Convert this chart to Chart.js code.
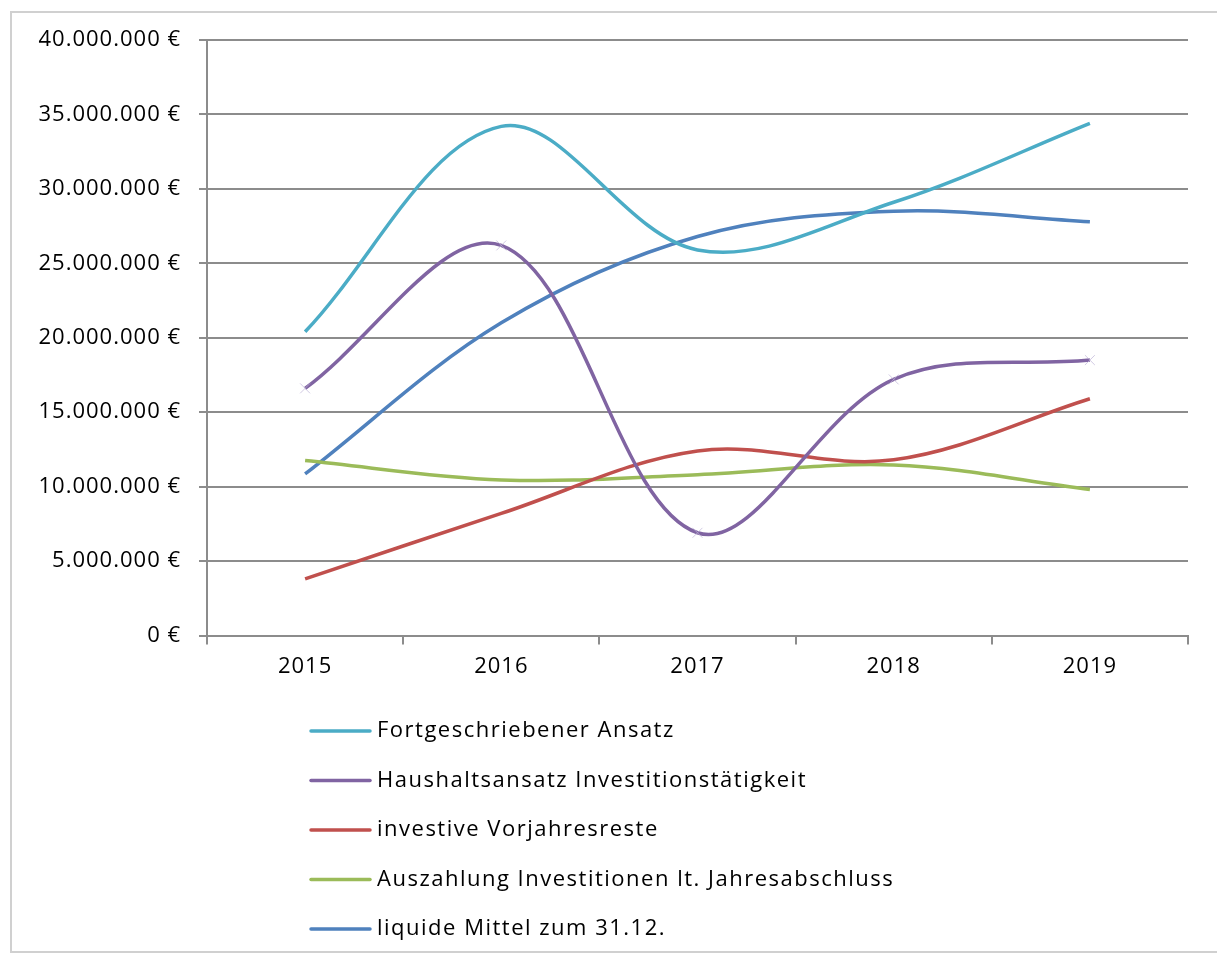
<!DOCTYPE html>
<html>
<head>
<meta charset="utf-8">
<script src="https://cdn.jsdelivr.net/npm/chart.js@4.4.1/dist/chart.umd.min.js"></script>
<style>
  html, body { margin: 0; padding: 0; background: #fff; }
  #wrap { width: 1217px; height: 956px; }
</style>
</head>
<body>
<div id="wrap"><canvas id="chart" width="1217" height="956"></canvas></div>
<script>
// data
const years = ['2015', '2016', '2017', '2018', '2019'];
const fortgeschrieben = [20400000, 34200000, 25900000, 29100000, 34400000];
const haushaltsansatz = [16600000, 26200000, 6900000, 17200000, 18500000];
const vorjahresreste = [3800000, 8200000, 12400000, 11800000, 15900000];
const auszahlung = [11750000, 10450000, 10800000, 11450000, 9800000];
const liquideMittel = [10850000, 21000000, 26800000, 28500000, 27800000];

const seriesNames = [
  'Fortgeschriebener Ansatz',
  'Haushaltsansatz Investitionstätigkeit',
  'investive Vorjahresreste',
  'Auszahlung Investitionen lt. Jahresabschluss',
  'liquide Mittel zum 31.12.'
];
const seriesColors = ['#4BACC6', '#8064A2', '#C0504D', '#9BBB59', '#4F81BD'];

const FONT = '"Open Sans", sans-serif';
const gridGray = '#8c8c8c';

// letter spacing like the original text rendering
const spacing = {
  id: 'spacing',
  beforeUpdate(chart) { chart.ctx.letterSpacing = '1px'; },
  beforeDraw(chart) {
    const ctx = chart.ctx;
    ctx.letterSpacing = '1px';
    ctx.save();
    ctx.fillStyle = '#fff';
    ctx.fillRect(0, 0, chart.width, chart.height);
    // outer frame
    ctx.strokeStyle = '#d0d0d0';
    ctx.lineWidth = 2;
    ctx.strokeRect(11, 12, chart.width, 940);
    ctx.restore();
  }
};

// legend: one entry per row below the axis
const listLegend = {
  id: 'listLegend',
  afterDraw(chart) {
    const ctx = chart.ctx;
    ctx.save();
    ctx.font = '22px ' + FONT;
    ctx.letterSpacing = '1.5px';
    ctx.textBaseline = 'middle';
    chart.data.datasets.forEach((ds, i) => {
      const y = 731 + i * 49.5;
      ctx.strokeStyle = ds.borderColor;
      ctx.lineWidth = 3.5;
      ctx.lineCap = 'round';
      ctx.beginPath();
      ctx.moveTo(311, y);
      ctx.lineTo(370, y);
      ctx.stroke();
      ctx.fillStyle = '#000';
      ctx.fillText(ds.label, 377, y);
    });
    ctx.restore();
  }
};

function makeSet(i, values) {
  return {
    label: seriesNames[i],
    data: values,
    borderColor: seriesColors[i],
    backgroundColor: seriesColors[i],
    borderWidth: 3.5,
    pointRadius: 0,
    tension: 0.35,
    fill: false
  };
}

const sets = [
  makeSet(0, fortgeschrieben),
  makeSet(1, haushaltsansatz),
  makeSet(2, vorjahresreste),
  makeSet(3, auszahlung),
  makeSet(4, liquideMittel)
];
sets[1].pointStyle = 'crossRot';
sets[1].pointRadius = 7;
sets[1].pointBorderColor = 'rgba(190,180,215,0.7)';
sets[1].pointBorderWidth = 1;

new Chart(document.getElementById('chart'), {
  type: 'line',
  data: { labels: years, datasets: sets },
  options: {
    responsive: false,
    animation: false,
    layout: { padding: { top: 40, right: 29, left: 0, bottom: 0 } },
    plugins: {
      legend: { display: false },
      tooltip: { enabled: false }
    },
    scales: {
      x: {
        offset: true,
        grid: {
          offset: true,
          drawOnChartArea: false,
          drawTicks: true,
          tickLength: 9,
          color: gridGray,
          lineWidth: 2
        },
        border: { color: gridGray, width: 2 },
        ticks: { color: '#000', font: { family: FONT, size: 22 }, padding: 9, maxRotation: 0 },
        afterFit(scale) { scale.height = 320.5; }
      },
      y: {
        min: 0,
        max: 40000000,
        grid: { color: gridGray, lineWidth: 2, tickLength: 8 },
        border: { color: gridGray, width: 2 },
        ticks: {
          stepSize: 5000000,
          color: '#000',
          padding: 18,
          font: { family: FONT, size: 22 },
          callback: v => v.toLocaleString('de-DE') + ' €'
        },
        afterFit(scale) { scale.width = 207; }
      }
    }
  },
  plugins: [spacing, listLegend]
});
</script>
</body>
</html>
